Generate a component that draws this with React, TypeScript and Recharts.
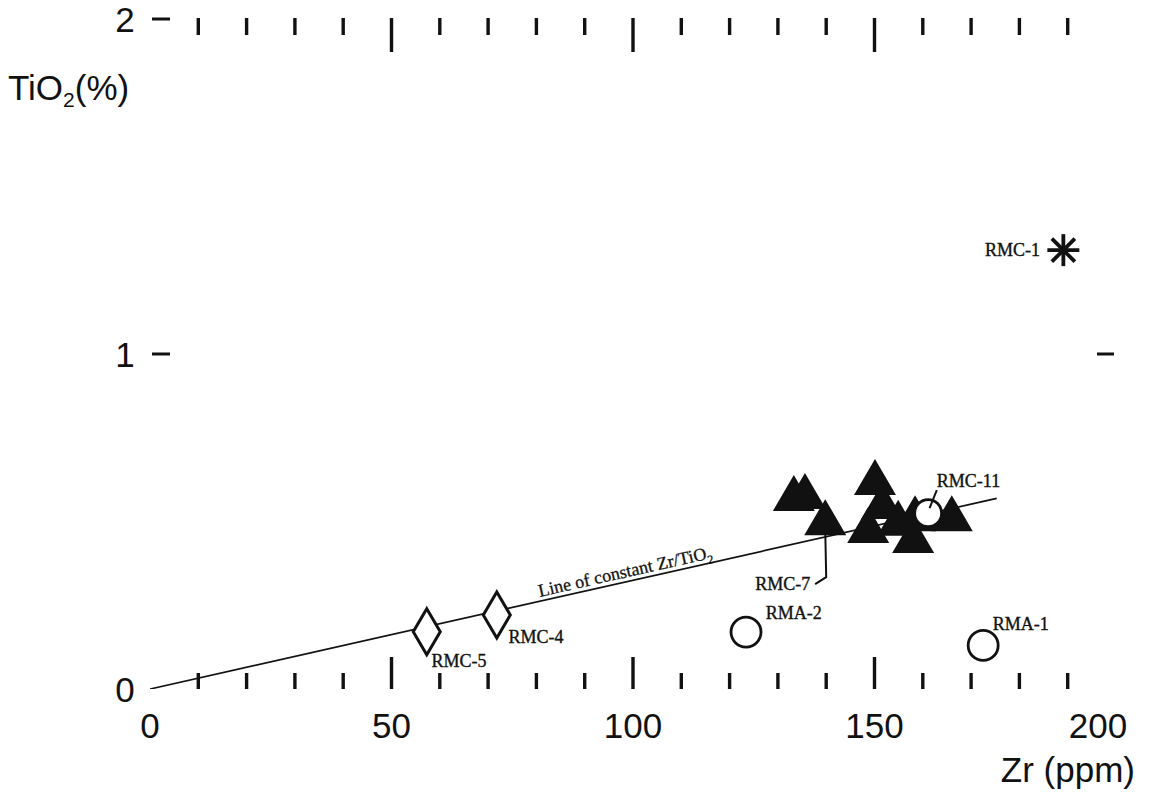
import React from "react";
import { Label, Scatter, ScatterChart, XAxis, YAxis } from "recharts";

// Scanned figure: black ink on white, Arial-like axis text, Times-like sample labels.
const INK = "#111";
const SANS = "'Liberation Sans', Arial, sans-serif";
const SERIF = "'Liberation Serif', 'Times New Roman', serif";

// ── Axis ticks ───────────────────────────────────────────────────────
const X_TICKS = [0, 10, 20, 30, 40, 50, 60, 70, 80, 90, 100, 110, 120, 130, 140, 150, 160, 170, 180, 190, 200];
const X_LABELS = [0, 50, 100, 150, 200];
const X_MAJOR = [50, 100, 150];
const Y_TICKS = [0, 1, 2];
const Y_LEFT_DASHES = [1, 2];
const Y_RIGHT_DASHES = [1];

// ── Samples (Zr ppm, TiO2 %) ─────────────────────────────────────────
const TRIANGLES = [
  { zr: 133.3, ti: 0.567 },
  { zr: 135.6, ti: 0.573 },
  { zr: 139.8, ti: 0.495 },
  { zr: 150.1, ti: 0.615 },
  { zr: 151.6, ti: 0.543 },
  { zr: 148.7, ti: 0.472 },
  { zr: 154.9, ti: 0.493 },
  { zr: 158.4, ti: 0.507 },
  { zr: 158.0, ti: 0.442 },
  { zr: 166.0, ti: 0.507 },
];
const DIAMONDS = [
  { zr: 57.3, ti: 0.171 },
  { zr: 71.8, ti: 0.221 },
];
const OPEN_CIRCLES = [
  { zr: 123.4, ti: 0.17 },
  { zr: 172.5, ti: 0.13 },
];
const RMC11 = [{ zr: 161.1, ti: 0.525 }];
const ASTERISK = [{ zr: 189.1, ti: 1.31 }];

const CONSTANT_LINE = [
  { zr: 0, ti: 0 },
  { zr: 175.3, ti: 0.569 },
];
const RMC7_LEADER = [
  { zr: 139.8, ti: 0.475 },
  { zr: 140.0, ti: 0.334 },
  { zr: 137.7, ti: 0.313 },
];
const RMC11_LEADER = [
  { zr: 161.4, ti: 0.54 },
  { zr: 162.9, ti: 0.594 },
];

// label anchor = left end of the text baseline
const POINT_LABELS = [
  { zr: 58.3, ti: 0.066, text: "RMC-5" },
  { zr: 74.2, ti: 0.137, text: "RMC-4" },
  { zr: 127.5, ti: 0.209, text: "RMA-2" },
  { zr: 174.5, ti: 0.176, text: "RMA-1" },
  { zr: 162.9, ti: 0.603, text: "RMC-11" },
  { zr: 125.3, ti: 0.296, text: "RMC-7" },
  { zr: 172.9, ti: 1.293, text: "RMC-1" },
];
const LINE_LABEL = [{ zr: 80.7, ti: 0.275 }];

// ── Tick renderers (ticks point inward, like the original frame) ────
function BottomTick(props: any) {
  const { x, y, payload } = props;
  const v = payload.value;
  const major = X_MAJOR.includes(v);
  const showLine = v > 0 && v < 200;
  const showLabel = X_LABELS.includes(v);
  return (
    <g>
      {showLine && <line x1={x} x2={x} y1={y} y2={y - (major ? 32 : 16)} stroke={INK} strokeWidth={3.4} />}
      {showLabel && (
        <text x={v === 200 ? x - 18 : x} y={y + 49} textAnchor="middle" fontFamily={SANS} fontSize={35} fill={INK}>
          {v}
        </text>
      )}
    </g>
  );
}

function TopTick(props: any) {
  const { x, y, payload } = props;
  const v = payload.value;
  if (v <= 0 || v >= 200) return <g />;
  const major = X_MAJOR.includes(v);
  return <line x1={x} x2={x} y1={y - 1} y2={y + (major ? 33 : 16)} stroke={INK} strokeWidth={3.4} />;
}

function LeftTick(props: any) {
  const { x, y, payload } = props;
  const v = payload.value;
  return (
    <g>
      {Y_LEFT_DASHES.includes(v) && <line x1={x + 2} x2={x + 20} y1={y} y2={y} stroke={INK} strokeWidth={3} />}
      <text x={x - 25} y={y} dy="0.36em" textAnchor="middle" fontFamily={SANS} fontSize={35} fill={INK}>
        {v}
      </text>
    </g>
  );
}

function RightTick(props: any) {
  const { x, y, payload } = props;
  if (!Y_RIGHT_DASHES.includes(payload.value)) return <g />;
  return <line x1={x - 2} x2={x - 19} y1={y} y2={y} stroke={INK} strokeWidth={3} />;
}

// ── Marker shapes ────────────────────────────────────────────────────
const Triangle = ({ cx, cy }: any) => (
  <path d={`M${cx},${cy - 24} L${cx + 21},${cy + 12} L${cx - 21},${cy + 12} Z`} fill={INK} />
);
const Diamond = ({ cx, cy }: any) => (
  <path
    d={`M${cx},${cy - 23} L${cx + 13.5},${cy} L${cx},${cy + 23} L${cx - 13.5},${cy} Z`}
    fill="#fff"
    stroke={INK}
    strokeWidth={3}
    strokeLinejoin="miter"
  />
);
const OpenCircle = ({ cx, cy }: any) => <circle cx={cx} cy={cy} r={15} fill="#fff" stroke={INK} strokeWidth={2.8} />;
const SmallCircle = ({ cx, cy }: any) => <circle cx={cx} cy={cy} r={13.5} fill="#fff" stroke={INK} strokeWidth={2.8} />;
const Asterisk = ({ cx, cy }: any) => {
  const r = 16;
  const d = r * 0.72;
  return (
    <g stroke={INK} strokeWidth={3.8}>
      <line x1={cx - r} x2={cx + r} y1={cy} y2={cy} />
      <line x1={cx} x2={cx} y1={cy - r} y2={cy + r} />
      <line x1={cx - d} x2={cx + d} y1={cy - d} y2={cy + d} />
      <line x1={cx - d} x2={cx + d} y1={cy + d} y2={cy - d} />
    </g>
  );
};
const NoMark = () => <g />;
const PointLabel = ({ cx, cy, payload }: any) => (
  <text x={cx} y={cy} fontFamily={SERIF} fontSize={18} fill={INK} stroke={INK} strokeWidth={0.35}>
    {payload.text}
  </text>
);
const LineLabel = ({ cx, cy }: any) => (
  <text
    x={cx}
    y={cy}
    fontFamily={SERIF}
    fontSize={18}
    fill={INK}
    stroke={INK}
    strokeWidth={0.3}
    transform={`rotate(-12.7 ${cx} ${cy})`}
  >
    Line of constant Zr/TiO
    <tspan dy={5} fontSize={12}>
      2
    </tspan>
  </text>
);

export default function App() {
  return (
    <div style={{ position: "absolute", left: 0, top: 0, width: 1152, height: 794, background: "#fff" }}>
      <ScatterChart width={1152} height={794} margin={{ top: 9, right: 16, bottom: 45, left: 90 }}>
        <XAxis
          xAxisId={0}
          type="number"
          dataKey="zr"
          domain={[0, 200]}
          ticks={X_TICKS}
          interval={0}
          height={60}
          axisLine={false}
          tickLine={false}
          tickSize={0}
          tickMargin={0}
          tick={(p: any) => <BottomTick {...p} />}
          allowDataOverflow
        >
          <Label
            content={() => (
              <text x={1135} y={782} textAnchor="end" fontFamily={SANS} fontSize={35} fill={INK}>
                Zr (ppm)
              </text>
            )}
          />
        </XAxis>
        <XAxis
          xAxisId="top"
          orientation="top"
          type="number"
          dataKey="zr"
          domain={[0, 200]}
          ticks={X_TICKS}
          interval={0}
          height={10}
          axisLine={false}
          tickLine={false}
          tickSize={0}
          tickMargin={0}
          tick={(p: any) => <TopTick {...p} />}
          allowDataOverflow
        />
        <YAxis
          yAxisId={0}
          type="number"
          dataKey="ti"
          domain={[0, 2]}
          ticks={Y_TICKS}
          interval={0}
          width={60}
          axisLine={false}
          tickLine={false}
          tickSize={0}
          tickMargin={0}
          tick={(p: any) => <LeftTick {...p} />}
          allowDataOverflow
        >
          <Label
            content={() => (
              <text x={8} y={100} fontFamily={SANS} fontSize={35} fill={INK}>
                TiO
                <tspan dy={7} fontSize={21}>
                  2
                </tspan>
                <tspan dy={-7}>(%)</tspan>
              </text>
            )}
          />
        </YAxis>
        <YAxis
          yAxisId="right"
          orientation="right"
          type="number"
          dataKey="ti"
          domain={[0, 2]}
          ticks={Y_TICKS}
          interval={0}
          width={20}
          axisLine={false}
          tickLine={false}
          tickSize={0}
          tickMargin={0}
          tick={(p: any) => <RightTick {...p} />}
          allowDataOverflow
        />

        <Scatter data={CONSTANT_LINE} line={{ stroke: INK, strokeWidth: 1.7 }} shape={NoMark} isAnimationActive={false} />
        <Scatter data={DIAMONDS} shape={Diamond} isAnimationActive={false} />
        <Scatter data={OPEN_CIRCLES} shape={OpenCircle} isAnimationActive={false} />
        <Scatter data={TRIANGLES} shape={Triangle} isAnimationActive={false} />
        <Scatter data={RMC11} shape={SmallCircle} isAnimationActive={false} />
        <Scatter data={ASTERISK} shape={Asterisk} isAnimationActive={false} />
        <Scatter data={RMC7_LEADER} line={{ stroke: INK, strokeWidth: 2 }} shape={NoMark} isAnimationActive={false} />
        <Scatter data={RMC11_LEADER} line={{ stroke: INK, strokeWidth: 2 }} shape={NoMark} isAnimationActive={false} />
        <Scatter data={POINT_LABELS} shape={PointLabel} isAnimationActive={false} />
        <Scatter data={LINE_LABEL} shape={LineLabel} isAnimationActive={false} />
      </ScatterChart>
    </div>
  );
}
